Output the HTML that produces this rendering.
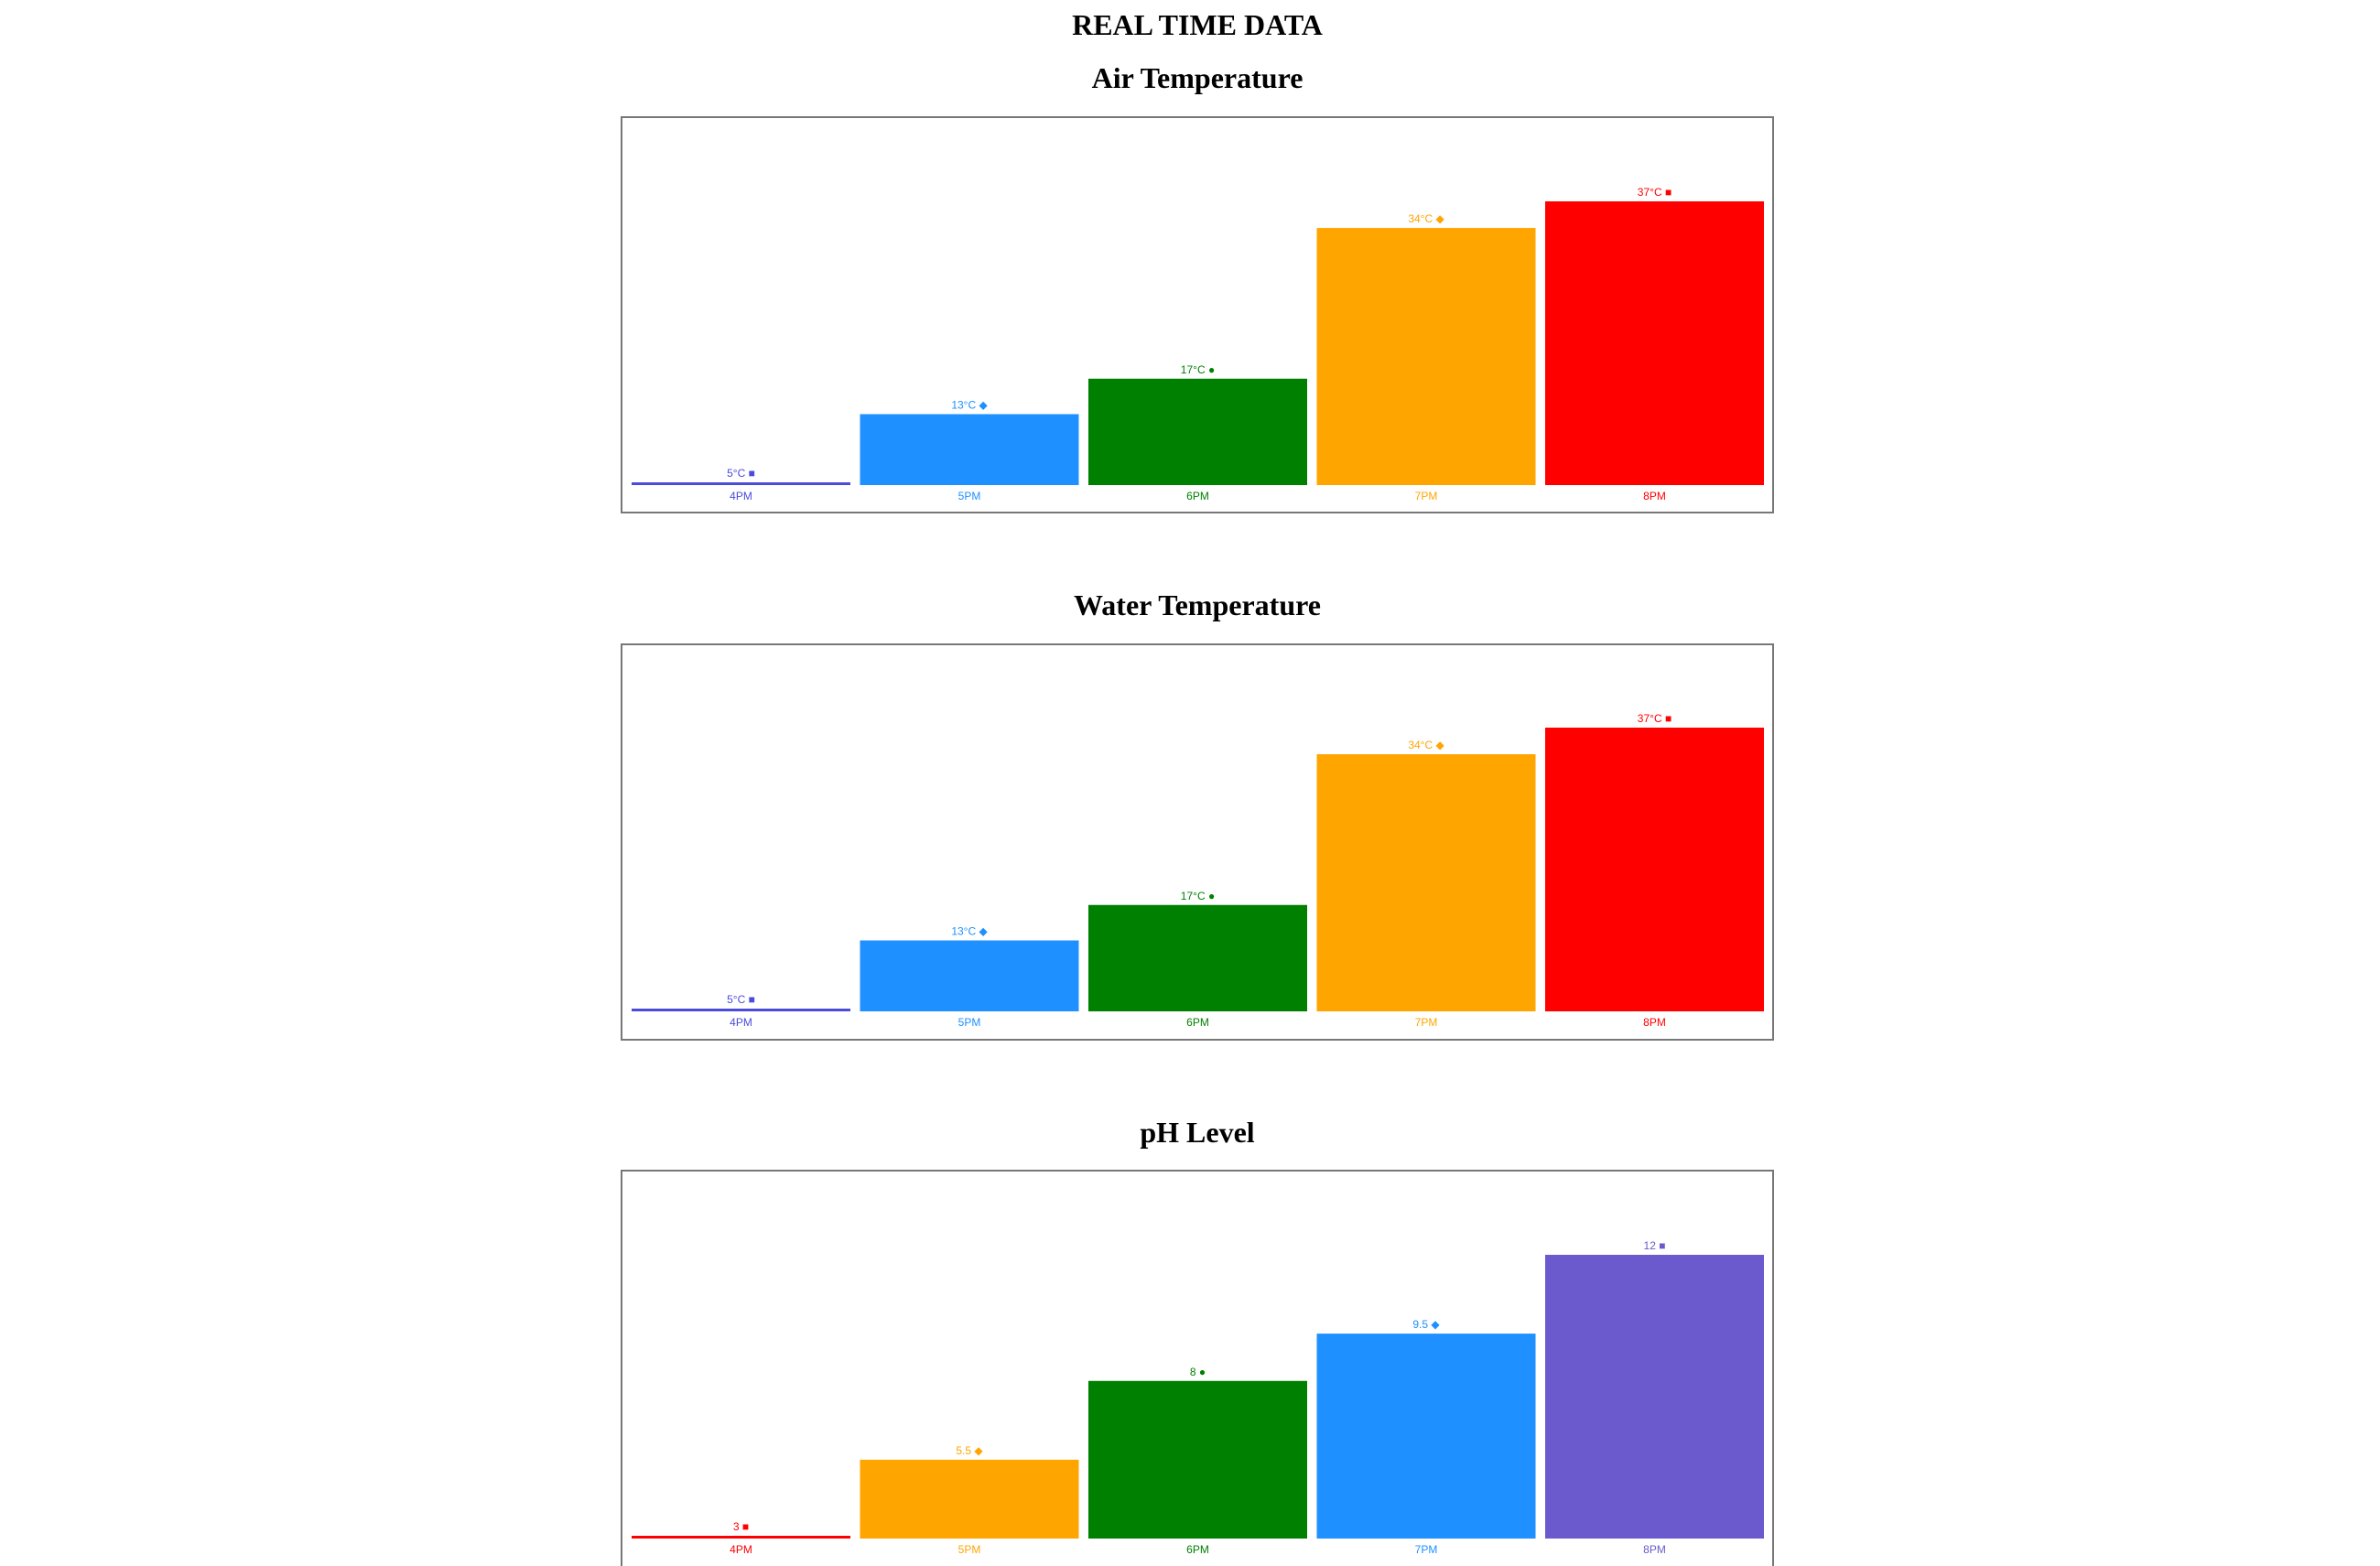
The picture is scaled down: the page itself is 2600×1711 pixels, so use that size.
<!DOCTYPE html>
<html><head><meta charset="utf-8"><style>
html,body{margin:0;padding:0;background:#fff;width:2600px;height:1711px;overflow:hidden}
svg{display:block}
.t{font-family:"Liberation Serif",serif;font-weight:bold;font-size:32px;fill:#000}
.l{font-family:"Liberation Sans",sans-serif;font-size:12px}
</style></head><body>
<svg id="svg" width="2600" height="1711" xmlns="http://www.w3.org/2000/svg">
<text class="t" x="1308" y="38" text-anchor="middle">REAL TIME DATA</text>
</svg>
<script>
const categories = ["4PM","5PM","6PM","7PM","8PM"];
const airValues = [5,13,17,34,37];
const waterValues = [5,13,17,34,37];
const phValues = [3,5.5,8,9.5,12];
const tempColors = ["#4b4bdd","#1e90ff","#008000","#ffa500","#ff0000"];
const phColors = ["#ff0000","#ffa500","#008000","#1e90ff","#6a5acd"];
const markers = ["■","◆","●","◆","■"];
const NS="http://www.w3.org/2000/svg";
const svg=document.getElementById('svg');
function mk(tag,attrs,parent){const e=document.createElementNS(NS,tag);for(const k in attrs)e.setAttribute(k,attrs[k]);(parent||svg).appendChild(e);return e;}
function chart(name,title,titleY,boxTop,boxH,baseY,values,colors,unit){
  const g=mk('g',{});
  
  
  const t=mk('text',{class:'t',x:1308,y:titleY,'text-anchor':'middle'},g);
  t.textContent=title;
  
  
  const box=mk('rect',{x:679,y:boxTop,width:1258,height:boxH,fill:'none',stroke:'#777','stroke-width':2},g);
  
  
  const vmin=Math.min(...values), vmax=Math.max(...values);
  const plotH=310;
  const y=v=>baseY-(v-vmin)/(vmax-vmin)*plotH;
  const x=i=>690+i*249.5;
  const bw=239;
  values.forEach((v,i)=>{
    const top=Math.min(y(v),baseY-3);
    const r=mk('rect',{x:x(i),y:top,width:bw,height:baseY-top,fill:colors[i]},g);
    
    
    const vl=mk('text',{class:'l',x:x(i)+bw/2,y:top-6,'text-anchor':'middle',fill:colors[i]},g);
    vl.textContent=v+unit+' '+markers[i];
    
    
    const xl=mk('text',{class:'l',x:x(i)+bw/2,y:baseY+16,'text-anchor':'middle',fill:colors[i]},g);
    xl.textContent=categories[i];
    
    
  });
}
chart('air-temperature-chart','Air Temperature',96,128,432,530,airValues,tempColors,'°C');
chart('water-temperature-chart','Water Temperature',672,704,432,1105,waterValues,tempColors,'°C');
chart('ph-level-chart','pH Level',1248,1279,500,1681,phValues,phColors,'');
</script>
</body></html>
